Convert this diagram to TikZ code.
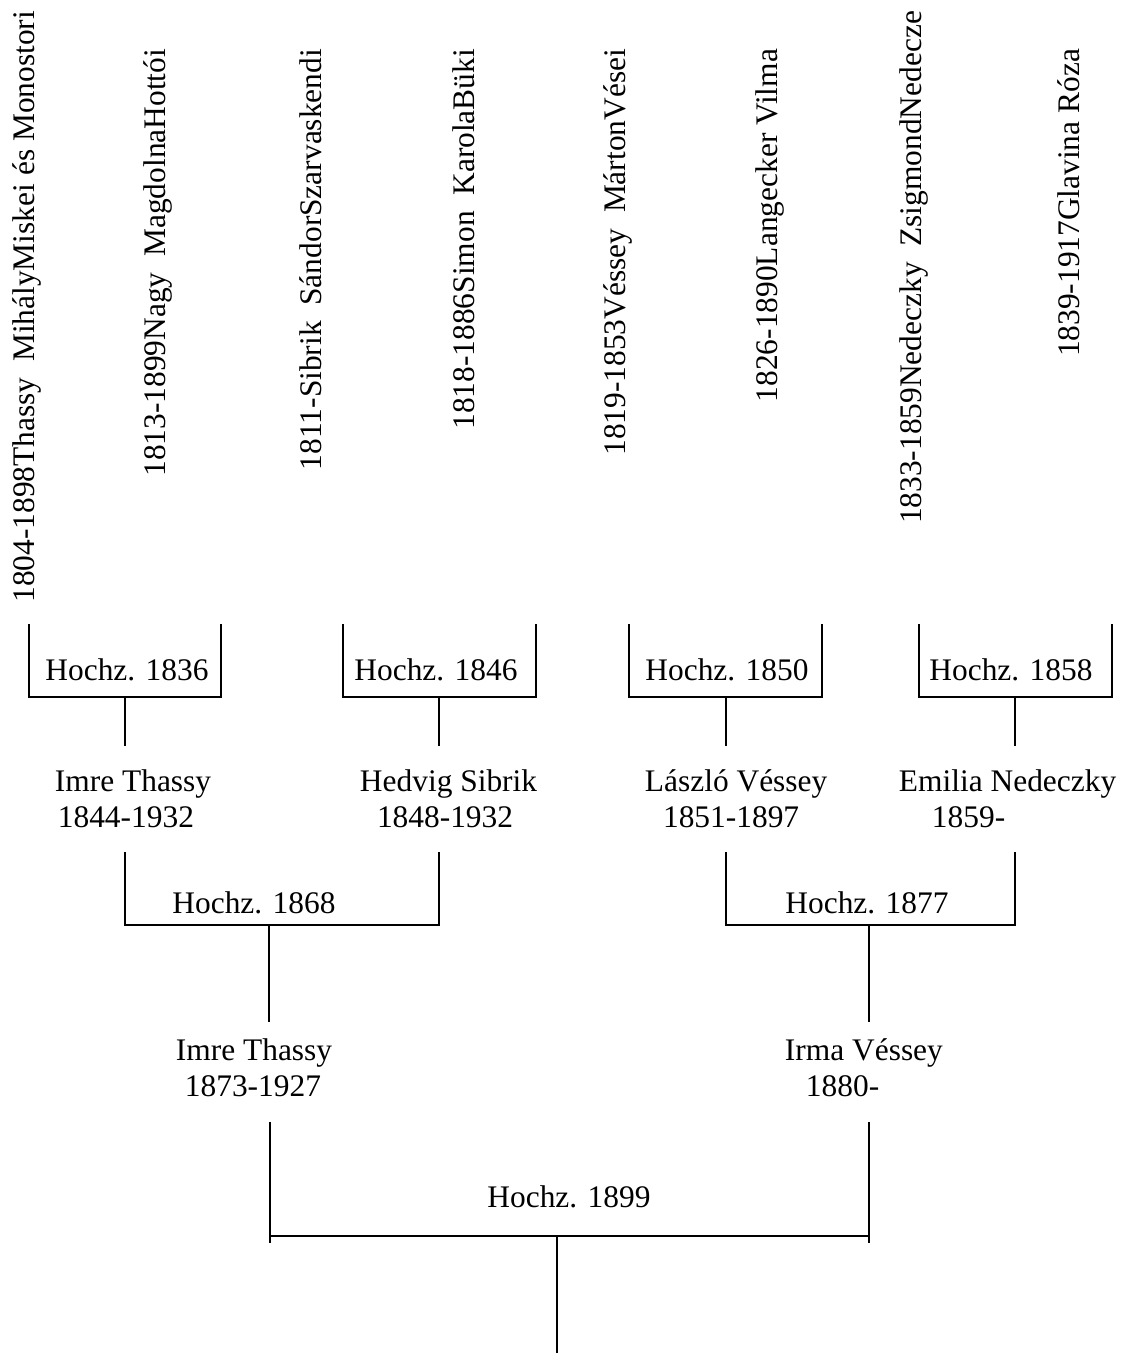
\documentclass[tikz,border=0pt]{standalone}
\usepackage{fontspec}
\setmainfont{Liberation Serif}

\begin{document}
\begin{tikzpicture}[
		x=0.382pt, y=-0.382pt,
		line width=0.75pt,
		every node/.style={inner sep=0pt, font=\fontsize{12pt}{13.4pt}\selectfont},
		ancestor/.style={rotate=90, anchor=base east},
		person/.style={anchor=base west, align=left},
		wedding/.style={anchor=base}
	]
  \useasboundingbox (0,0) rectangle (1124,1353);

  % great-grandparents
  \node (a1) [ancestor] at (35,10) {1804-1898Thassy\ \ MihályMiskei és Monostori};
  \node (a2) [ancestor] at (165,48) {1813-1899Nagy\ \ MagdolnaHottói};
  \node (a3) [ancestor] at (321,48) {1811-Sibrik\ \ SándorSzarvaskendi};
  \node (a4) [ancestor] at (474,48) {1818-1886Simon\ \ KarolaBüki};
  \node (a5) [ancestor] at (625,48) {1819-1853Véssey\ \ MártonVései};
  \node (a6) [ancestor] at (777,48) {1826-1890Langecker Vilma};
  \node (a7) [ancestor] at (921,10) {1833-1859Nedeczky\ \ ZsigmondNedecze};
  \node (a8) [ancestor] at (1079,48) {1839-1917Glavina Róza};

  % weddings 1836, 1846, 1850, 1858
  \coordinate (w1l) at (29,624);  \coordinate (w1r) at (221,624);
  \coordinate (w1) at (125,697);  \coordinate (w1e) at (125,746);
  \coordinate (w2l) at (343,624); \coordinate (w2r) at (536,624);
  \coordinate (w2) at (439,697);  \coordinate (w2e) at (439,746);
  \coordinate (w3l) at (629,624); \coordinate (w3r) at (822,624);
  \coordinate (w3) at (726,697);  \coordinate (w3e) at (726,746);
  \coordinate (w4l) at (919,624); \coordinate (w4r) at (1112,624);
  \coordinate (w4) at (1015,697); \coordinate (w4e) at (1015,746);

  \node (h1836) [wedding] at (127,680) {Hochz. 1836};
  \node (h1846) [wedding] at (436,680) {Hochz. 1846};
  \node (h1850) [wedding] at (727,680) {Hochz. 1850};
  \node (h1858) [wedding] at (1011,680) {Hochz. 1858};

  \draw (w1l) |- (w1) -| (w1r);
  \draw (w1) -- (w1e);
  \draw (w2l) |- (w2) -| (w2r);
  \draw (w2) -- (w2e);
  \draw (w3l) |- (w3) -| (w3r);
  \draw (w3) -- (w3e);
  \draw (w4l) |- (w4) -| (w4r);
  \draw (w4) -- (w4e);

  % grandparents (base = last line)
  \node (thassy1) [person] at (54,827) {Imre Thassy\\\hspace*{1.1pt}1844-1932};
  \node (sibrik) [person] at (359,827) {Hedvig Sibrik\\\hspace*{6.5pt}1848-1932};
  \node (vessey1) [person] at (644,827) {László Véssey\\\hspace*{6.9pt}1851-1897};
  \node (nedeczky) [person] at (898,827) {Emilia Nedeczky\\\hspace*{12.6pt}1859-};

  % weddings 1868, 1877
  \coordinate (w5l) at (125,852); \coordinate (w5r) at (439,852);
  \coordinate (w5) at (269,925);  \coordinate (w5e) at (269,1022);
  \coordinate (w6l) at (726,852); \coordinate (w6r) at (1015,852);
  \coordinate (w6) at (869,925);  \coordinate (w6e) at (869,1022);

  \node (h1868) [wedding] at (254,913) {Hochz. 1868};
  \node (h1877) [wedding] at (867,913) {Hochz. 1877};

  \draw (w5l) |- (w5) -| (w5r);
  \draw (w5) -- (w5e);
  \draw (w6l) |- (w6) -| (w6r);
  \draw (w6) -- (w6e);

  % parents
  \node (thassy2) [person] at (175,1096) {Imre Thassy\\\hspace*{3.4pt}1873-1927};
  \node (irma) [person] at (784,1096) {Irma Véssey\\\hspace*{8pt}1880-};

  % wedding 1899
  \coordinate (w7l) at (270,1122); \coordinate (w7r) at (869,1122);
  \coordinate (w7) at (557,1236);  \coordinate (w7e) at (557,1353);

  \node (h1899) [wedding] at (569,1207) {Hochz. 1899};

  \draw (w7l) -- ++(0,121);
  \draw (w7r) -- ++(0,121);
  \draw (w7l |- w7) -- (w7r |- w7);
  \draw (w7) -- (w7e);
\end{tikzpicture}
\end{document}
